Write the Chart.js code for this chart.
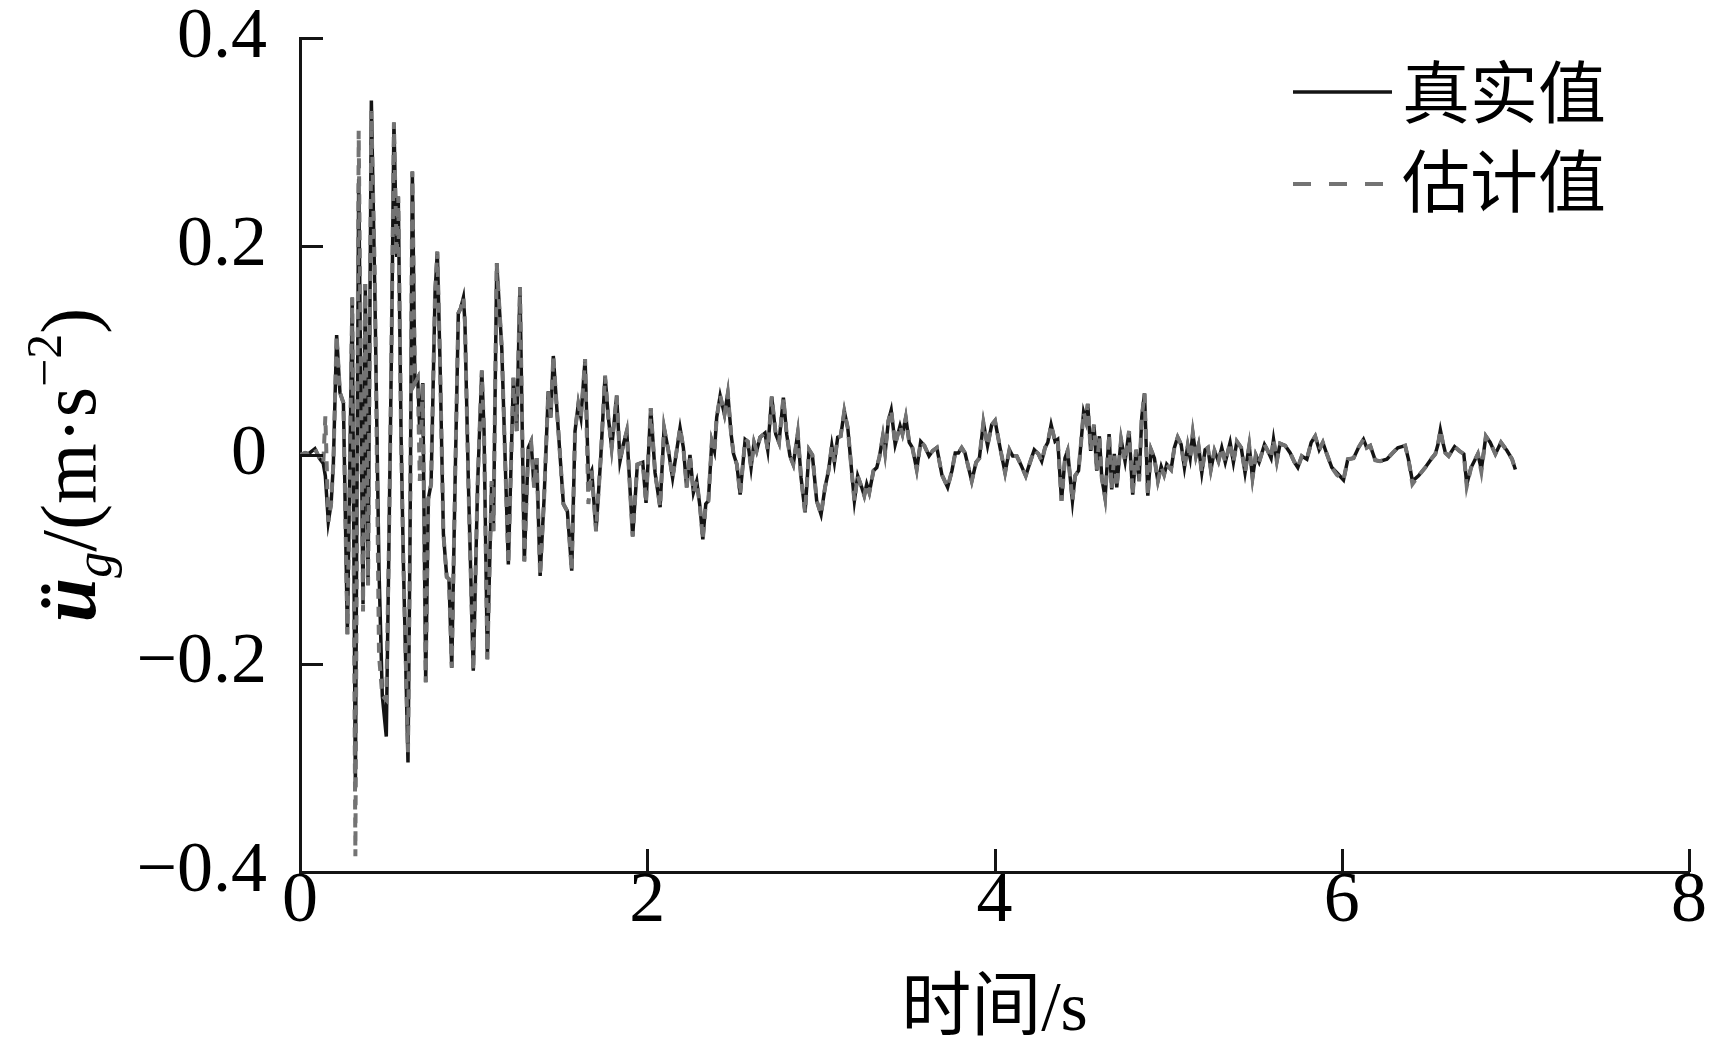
<!DOCTYPE html>
<html>
<head>
<meta charset="utf-8">
<script src="https://cdn.jsdelivr.net/npm/chart.js@4/dist/chart.umd.min.js"></script>
<style>
  html, body { margin: 0; padding: 0; background: #fff; }
  #wrap { width: 1709px; height: 1059px; }
</style>
</head>
<body>
<div id="wrap"><canvas id="accChart" width="1709" height="1059"></canvas></div>
<script>
// time (s)
const timeS = [
  0, 0.030, 0.048, 0.086, 0.115, 0.134, 0.146, 0.163, 0.179, 0.192,
  0.211, 0.230, 0.250, 0.273, 0.301, 0.319, 0.338, 0.363, 0.376, 0.392,
  0.411, 0.432, 0.455, 0.474, 0.497, 0.513, 0.528, 0.541, 0.557, 0.566,
  0.582, 0.595, 0.622, 0.634, 0.647, 0.662, 0.678, 0.690, 0.707, 0.724,
  0.739, 0.755, 0.778, 0.791, 0.806, 0.826, 0.845, 0.858, 0.874, 0.893,
  0.912, 0.926, 0.941, 0.950, 0.970, 0.998, 1.023, 1.047, 1.060, 1.079,
  1.104, 1.114, 1.133, 1.162, 1.200, 1.229, 1.248, 1.267, 1.292, 1.315,
  1.331, 1.348, 1.363, 1.383, 1.406, 1.430, 1.444, 1.459, 1.488, 1.517,
  1.540, 1.565, 1.584, 1.603, 1.618, 1.642, 1.661, 1.680, 1.705, 1.732,
  1.757, 1.776, 1.795, 1.824, 1.843, 1.862, 1.882, 1.916, 1.943, 1.974,
  1.993, 2.020, 2.045, 2.074, 2.097, 2.122, 2.146, 2.189, 2.208, 2.227,
  2.246, 2.266, 2.285, 2.304, 2.320, 2.337, 2.352, 2.372, 2.387, 2.400,
  2.420, 2.445, 2.464, 2.483, 2.497, 2.516, 2.535, 2.564, 2.579, 2.598,
  2.615, 2.630, 2.650, 2.678, 2.694, 2.717, 2.740, 2.759, 2.784, 2.803,
  2.822, 2.841, 2.867, 2.886, 2.909, 2.932, 2.951, 2.976, 3.001, 3.024,
  3.044, 3.063, 3.078, 3.097, 3.114, 3.135, 3.155, 3.177, 3.193, 3.212,
  3.235, 3.250, 3.264, 3.279, 3.303, 3.322, 3.337, 3.357, 3.370, 3.389,
  3.405, 3.428, 3.456, 3.470, 3.489, 3.509, 3.527, 3.552, 3.575, 3.596,
  3.623, 3.644, 3.668, 3.697, 3.730, 3.755, 3.774, 3.792, 3.811, 3.830,
  3.869, 3.894, 3.913, 3.936, 3.960, 3.984, 4.003, 4.032, 4.061, 4.086,
  4.105, 4.128, 4.151, 4.180, 4.201, 4.229, 4.253, 4.272, 4.291, 4.307,
  4.326, 4.349, 4.364, 4.386, 4.406, 4.421, 4.436, 4.449, 4.464, 4.484,
  4.499, 4.513, 4.526, 4.537, 4.554, 4.573, 4.589, 4.604, 4.618, 4.637,
  4.660, 4.675, 4.690, 4.704, 4.729, 4.752, 4.775, 4.796, 4.815, 4.833,
  4.848, 4.864, 4.883, 4.902, 4.921, 4.941, 4.960, 4.977, 4.992, 5.017,
  5.036, 5.055, 5.075, 5.094, 5.113, 5.127, 5.142, 5.160, 5.175, 5.194,
  5.213, 5.229, 5.246, 5.267, 5.290, 5.309, 5.329, 5.357, 5.376, 5.396,
  5.421, 5.443, 5.467, 5.486, 5.505, 5.524, 5.555, 5.574, 5.593, 5.607,
  5.626, 5.645, 5.674, 5.703, 5.728, 5.747, 5.770, 5.799, 5.824, 5.847,
  5.870, 5.891, 5.914, 5.943, 5.972, 6.010, 6.035, 6.068, 6.096, 6.125,
  6.144, 6.164, 6.193, 6.221, 6.260, 6.288, 6.323, 6.365, 6.384, 6.407,
  6.442, 6.481, 6.519, 6.539, 6.554, 6.568, 6.581, 6.597, 6.616, 6.650,
  6.677, 6.703, 6.720, 6.745, 6.784, 6.804, 6.830, 6.855, 6.885, 6.917,
  6.952, 6.981, 7.000
];

// 真实值 (m/s^2)
const trueAcc = [
  0, 0.002, 0.001, 0.006, -0.004, -0.008, -0.020, -0.064, -0.047, -0.009,
  0.115, 0.060, 0.050, -0.172, 0.151, -0.320, 0.265, -0.143, 0.164, -0.125,
  0.340, 0.146, -0.110, -0.231, -0.270, -0.076, 0.117, 0.319, 0.190, 0.248,
  0.020, -0.100, -0.295, -0.076, 0.272, 0.069, 0.074, 0.020, 0.069, -0.218,
  -0.042, -0.028, 0.156, 0.195, 0.093, -0.076, -0.117, -0.119, -0.204, -0.028,
  0.136, 0.141, 0.151, 0.127, -0.028, -0.207, -0.028, 0.081, 0.023, -0.196,
  -0.025, -0.073, 0.184, 0.103, -0.105, 0.074, 0.023, 0.161, -0.102, 0.007,
  0.013, -0.031, -0.003, -0.116, -0.041, 0.061, 0.036, 0.095, 0.023, -0.047,
  -0.054, -0.111, 0.023, 0.049, 0.036, 0.092, -0.022, -0.015, -0.073, -0.003,
  0.076, 0.036, 0.007, 0.057, -0.006, 0.010, 0.023, -0.078, -0.009, -0.007,
  -0.046, 0.045, -0.017, -0.050, 0.026, 0.004, -0.022, 0.026, 0.007, -0.031,
  0.000, -0.036, -0.025, -0.050, -0.081, -0.047, -0.044, 0.013, 0.004, 0.036,
  0.057, 0.039, 0.059, 0.020, 0.001, -0.009, -0.038, 0.015, 0.013, -0.012,
  0.012, 0.004, 0.017, 0.021, 0.005, 0.056, 0.020, 0.012, 0.055, 0.020,
  -0.001, -0.009, 0.021, -0.022, -0.055, 0.005, 0.000, -0.044, -0.057, -0.031,
  -0.015, 0.009, -0.007, 0.017, 0.018, 0.042, 0.026, -0.015, -0.044, -0.020,
  -0.031, -0.039, -0.028, -0.036, -0.015, -0.012, -0.002, 0.018, 0.002, 0.033,
  0.043, 0.010, 0.028, 0.020, 0.036, 0.012, 0.007, -0.014, 0.013, 0.009,
  -0.001, 0.004, 0.007, -0.019, -0.031, -0.015, 0.002, 0.002, 0.007, 0.002,
  -0.025, -0.007, -0.003, 0.031, 0.009, 0.029, 0.033, 0.007, -0.017, 0.005,
  -0.001, -0.001, -0.009, -0.020, -0.009, 0.005, 0.001, -0.006, 0.007, 0.012,
  0.029, 0.013, 0.015, -0.044, -0.003, 0.004, -0.022, -0.044, -0.020, -0.015,
  0.013, 0.041, 0.033, 0.049, 0.004, 0.029, -0.015, 0.018, -0.022, -0.041,
  0.020, -0.033, 0.001, -0.031, 0.015, -0.006, 0.023, -0.038, 0.005, -0.025,
  0.036, 0.059, -0.039, 0.005, -0.003, -0.025, -0.011, -0.019, -0.009, -0.014,
  0.007, 0.017, 0.010, -0.012, 0.009, -0.003, 0.021, -0.001, 0.009, -0.017,
  0.005, 0.007, -0.014, 0.004, -0.006, 0.007, -0.007, 0.012, -0.007, 0.013,
  0.007, -0.017, 0.009, -0.022, 0.000, -0.007, 0.010, 0.004, -0.003, 0.015,
  -0.006, 0.011, 0.009, 0.002, -0.007, -0.012, -0.001, -0.004, 0.012, 0.018,
  0.005, 0.012, 0.001, -0.012, -0.017, -0.024, -0.004, -0.003, 0.007, 0.015,
  0.007, 0.009, -0.005, -0.006, -0.004, 0.001, 0.007, 0.009, -0.004, -0.025,
  -0.020, -0.012, -0.003, 0.001, 0.010, 0.024, 0.013, 0.002, -0.001, 0.008,
  0.004, 0.001, -0.028, -0.012, 0.001, -0.014, 0.018, 0.012, 0.001, 0.012,
  0.004, -0.004, -0.014
];

// 估计值 (m/s^2)
const estAcc = [
  0, 0.002, 0.001, 0.006, -0.004, -0.008, 0.037, -0.064, -0.047, -0.009,
  0.115, 0.060, 0.050, -0.172, 0.151, -0.385, 0.311, -0.150, 0.164, -0.125,
  0.330, 0.162, -0.192, -0.231, -0.235, -0.076, 0.117, 0.319, 0.190, 0.248,
  0.020, -0.100, -0.285, -0.076, 0.272, 0.069, 0.074, -0.025, 0.069, -0.218,
  -0.042, -0.028, 0.156, 0.195, 0.093, -0.076, -0.117, -0.119, -0.204, -0.028,
  0.136, 0.141, 0.151, 0.127, -0.028, -0.207, -0.028, 0.081, 0.023, -0.196,
  -0.025, -0.073, 0.184, 0.103, -0.105, 0.074, 0.023, 0.161, -0.102, 0.007,
  0.013, -0.031, -0.003, -0.116, -0.041, 0.061, 0.036, 0.095, 0.023, -0.047,
  -0.054, -0.111, 0.023, 0.049, 0.036, 0.092, -0.047, -0.015, -0.073, -0.003,
  0.076, 0.036, 0.007, 0.057, -0.006, 0.010, 0.023, -0.078, -0.009, -0.007,
  -0.046, 0.045, -0.017, -0.050, 0.026, 0.004, -0.022, 0.026, 0.007, -0.031,
  0.000, -0.036, -0.025, -0.050, -0.081, -0.047, -0.044, 0.013, 0.004, 0.036,
  0.057, 0.039, 0.059, 0.020, 0.001, -0.009, -0.038, 0.015, 0.013, -0.012,
  0.012, 0.004, 0.017, 0.021, 0.005, 0.056, 0.020, 0.012, 0.055, 0.020,
  -0.001, -0.009, 0.021, -0.022, -0.055, 0.005, 0.000, -0.044, -0.057, -0.031,
  -0.015, 0.009, -0.007, 0.017, 0.018, 0.042, 0.026, -0.015, -0.044, -0.020,
  -0.031, -0.039, -0.028, -0.036, -0.015, -0.012, -0.002, 0.018, 0.002, 0.033,
  0.043, 0.010, 0.028, 0.020, 0.036, 0.012, 0.007, -0.014, 0.013, 0.009,
  -0.001, 0.004, 0.007, -0.019, -0.031, -0.015, 0.002, 0.002, 0.007, 0.002,
  -0.025, -0.007, -0.003, 0.031, 0.009, 0.029, 0.033, 0.007, -0.017, 0.005,
  -0.001, -0.001, -0.009, -0.020, -0.009, 0.005, 0.001, -0.006, 0.007, 0.012,
  0.029, 0.013, 0.015, -0.044, -0.003, 0.004, -0.022, -0.044, -0.020, -0.015,
  0.013, 0.041, 0.033, 0.049, 0.004, 0.029, -0.015, 0.018, -0.022, -0.041,
  0.020, -0.033, 0.001, -0.031, 0.015, -0.006, 0.023, -0.038, 0.005, -0.025,
  0.036, 0.059, -0.039, 0.005, -0.003, -0.025, -0.011, -0.019, -0.009, -0.014,
  0.007, 0.017, 0.010, -0.012, 0.009, -0.003, 0.021, -0.001, 0.009, -0.017,
  0.005, 0.007, -0.014, 0.004, -0.006, 0.007, -0.007, 0.012, -0.007, 0.013,
  0.007, -0.017, 0.009, -0.022, 0.000, -0.007, 0.010, 0.004, -0.003, 0.015,
  -0.006, 0.011, 0.009, 0.002, -0.007, -0.012, -0.001, -0.004, 0.012, 0.018,
  0.005, 0.012, 0.001, -0.012, -0.019, -0.024, -0.004, -0.003, 0.007, 0.015,
  0.007, 0.009, -0.005, -0.006, -0.004, 0.001, 0.007, 0.009, -0.004, -0.028,
  -0.020, -0.012, -0.003, 0.001, 0.010, 0.024, 0.013, 0.002, -0.001, 0.008,
  0.004, 0.001, -0.030, -0.012, 0.001, -0.016, 0.018, 0.012, 0.001, 0.012,
  0.004, -0.004, -0.014
];

const seriesNames = ['真实值', '估计值'];
const xTickValues = [0, 2, 4, 6, 8];
const yTickValues = [-0.4, -0.2, 0, 0.2, 0.4];
const xTitle = '时间/s';

if (timeS.length !== trueAcc.length || timeS.length !== estAcc.length) {
    console.error('length mismatch', timeS.length, trueAcc.length, estAcc.length);
}

const SERIF = '"Liberation Serif", "Noto Sans CJK SC", serif';
const INK = '#141414';
const GREY = '#737373';
const TICK_LEN = 23;

// ticks inward, legend and y title are drawn here
const decorPlugin = {
    id: 'decor',
    afterDraw(chart) {
        const ctx = chart.ctx;
        const xs = chart.scales.x;
        const ys = chart.scales.y;
        const area = chart.chartArea;
        ctx.save();

        // inward tick marks
        ctx.strokeStyle = INK;
        ctx.lineWidth = 3;
        ctx.beginPath();
        ys.ticks.forEach(t => {
            if (t.value <= ys.min) return;
            const py = Math.round(ys.getPixelForValue(t.value)) + 0.5;
            ctx.moveTo(area.left, py);
            ctx.lineTo(area.left + TICK_LEN, py);
        });
        xs.ticks.forEach(t => {
            if (t.value <= xs.min) return;
            const px = Math.round(xs.getPixelForValue(t.value)) + 0.5;
            ctx.moveTo(px, area.bottom);
            ctx.lineTo(px, area.bottom - TICK_LEN);
        });
        ctx.stroke();

        // legend
        ctx.lineWidth = 3.5;
        ctx.strokeStyle = INK;
        ctx.setLineDash([]);
        ctx.beginPath();
        ctx.moveTo(1293, 92);
        ctx.lineTo(1392, 92);
        ctx.stroke();
        ctx.strokeStyle = GREY;
        ctx.lineWidth = 4;
        ctx.setLineDash([18, 18]);
        ctx.beginPath();
        ctx.moveTo(1293, 184);
        ctx.lineTo(1400, 184);
        ctx.stroke();
        ctx.setLineDash([]);
        ctx.fillStyle = '#000';
        ctx.font = '68px "Noto Sans CJK SC"';
        ctx.textBaseline = 'middle';
        ctx.textAlign = 'left';
        ctx.fillText(seriesNames[0], 1402, 92);
        ctx.fillText(seriesNames[1], 1402, 181);

        // y title: ü_g/(m·s^-2), rotated
        const parts = [
            { text: 'ü', font: 'italic bold 80px "Liberation Serif"', dy: 0 },
            { text: 'g', font: 'italic 52px "Liberation Serif"', dy: 16 },
            { text: '/(m·s', font: '78px "Liberation Serif"', dy: 0 },
            { text: '−2', font: '50px "Liberation Serif"', dy: -34 },
            { text: ')', font: '78px "Liberation Serif"', dy: 0 }
        ];
        let total = 0;
        parts.forEach(p => { ctx.font = p.font; p.w = ctx.measureText(p.text).width; total += p.w; });
        ctx.translate(95, 465);
        ctx.rotate(-Math.PI / 2);
        ctx.textBaseline = 'alphabetic';
        let cx = -total / 2;
        parts.forEach(p => {
            ctx.font = p.font;
            ctx.fillText(p.text, cx, p.dy);
            cx += p.w;
        });
        ctx.restore();
    }
};

const fmtY = v => {
    if (Math.abs(v) < 1e-9) return '0';
    return (v < 0 ? '−' : '') + Math.abs(v).toFixed(1);
};

const ctx = document.getElementById('accChart').getContext('2d');
new Chart(ctx, {
    type: 'line',
    data: {
        datasets: [
            {
                label: seriesNames[1],
                data: timeS.map((t, i) => ({ x: t, y: estAcc[i] })),
                borderColor: GREY,
                borderWidth: 4,
                borderDash: [10, 8],
                pointRadius: 0,
                tension: 0,
                order: 0
            },
            {
                label: seriesNames[0],
                data: timeS.map((t, i) => ({ x: t, y: trueAcc[i] })),
                borderColor: INK,
                borderWidth: 3.5,
                pointRadius: 0,
                tension: 0,
                order: 1
            }
        ]
    },
    options: {
        responsive: false,
        animation: false,
        devicePixelRatio: 1,
        layout: { padding: { top: 38, right: 20, left: 0, bottom: 0 } },
        plugins: { legend: { display: false }, tooltip: { enabled: false } },
        scales: {
            x: {
                type: 'linear',
                min: 0,
                max: 8,
                afterFit: s => { s.height = 187; },
                afterBuildTicks: s => { s.ticks = xTickValues.map(v => ({ value: v })); },
                grid: { display: false, drawTicks: false },
                border: { display: true, color: INK, width: 3 },
                ticks: {
                    color: '#000',
                    padding: -6,
                    maxRotation: 0,
                    font: { family: SERIF, size: 72, lineHeight: 1 },
                    callback: v => String(v)
                },
                title: {
                    display: true,
                    text: xTitle,
                    color: '#000',
                    font: { family: SERIF, size: 70, lineHeight: 1 },
                    padding: { top: 0, bottom: 12 }
                }
            },
            y: {
                min: -0.4,
                max: 0.4,
                afterFit: s => { s.width = 300; s.paddingTop = 0; s.paddingBottom = 0; },
                afterBuildTicks: s => { s.ticks = yTickValues.map(v => ({ value: v })); },
                grid: { display: false, drawTicks: false },
                border: { display: true, color: INK, width: 3 },
                ticks: {
                    color: '#000',
                    padding: 33,
                    font: { family: SERIF, size: 72, lineHeight: 1 },
                    callback: v => fmtY(v)
                }
            }
        }
    },
    plugins: [decorPlugin]
});
</script>
</body>
</html>
